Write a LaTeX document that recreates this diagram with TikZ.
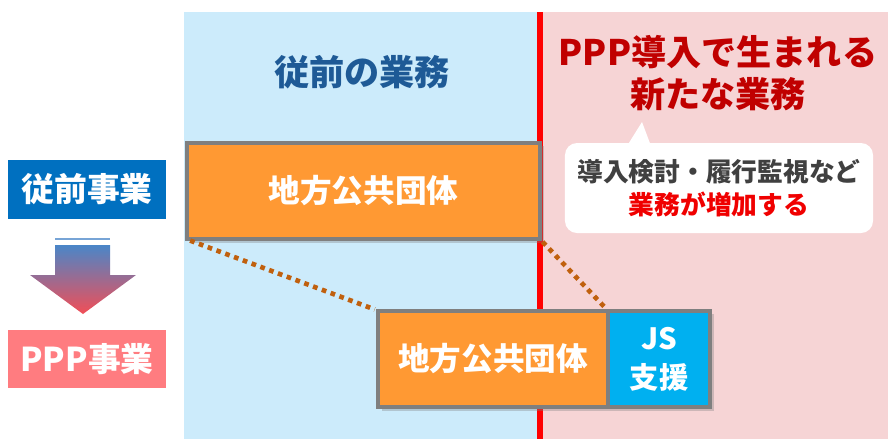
\documentclass[tikz,border=0pt]{standalone}
\usepackage{fontspec}
\setmainfont{Noto Sans CJK JP}
\usepackage{tikz}
\usetikzlibrary{positioning,shadows}
\definecolor{panelblue}{HTML}{CCEBFB}
\definecolor{panelpink}{HTML}{F6D4D5}
\definecolor{titleblue}{HTML}{1E5A96}
\definecolor{titlered}{HTML}{C00000}
\definecolor{notegray}{HTML}{404040}
\definecolor{notered}{HTML}{F00000}
\definecolor{orgfill}{HTML}{FF9933}
\definecolor{boxgray}{HTML}{7F7F7F}
\definecolor{jsblue}{HTML}{00B0F0}
\definecolor{dotbrown}{HTML}{C0600E}
\definecolor{oldblue}{HTML}{0070C0}
\definecolor{ppppink}{HTML}{FF7C80}
\definecolor{arrowtop}{HTML}{4A86C8}
\definecolor{arrowmid}{HTML}{D2B8D4}
\definecolor{arrowbot}{HTML}{F24E56}

\begin{document}
\begin{tikzpicture}[x=0.03cm,y=-0.03cm,
    orgbox/.style={draw=boxgray, line width=3.4pt, fill=orgfill, text=white,
      font=\bfseries\fontsize{27}{30}\selectfont, minimum height=2.9cm,
      inner sep=0pt, outer sep=0pt,
      drop shadow={shadow xshift=3pt, shadow yshift=-3pt, opacity=0.35}},
    sidebox/.style={text=white, font=\bfseries\fontsize{28}{32}\selectfont,
      minimum width=4.74cm, minimum height=1.76cm, inner sep=0pt},
    dotline/.style={dotbrown, line width=4pt, dash pattern=on 4pt off 4pt,
      shorten <=3pt, shorten >=3pt}]
  \useasboundingbox (0,0) rectangle (888,439);

  % two columns
  \fill[panelblue] (184,12) rectangle (540,439);
  \fill[panelpink] (540,12) rectangle (888,439);
  \draw[red, line width=5pt] (540,12) -- (540,439);

  \node[text=titleblue, font=\bfseries\fontsize{30}{36}\selectfont] (oldtitle) at (362,72) {従前の業務};
  \node[text=titlered, font=\bfseries\fontsize{30}{36.5}\selectfont, align=center] (newtitle) at (718,73)
    {PPP導入で生まれる\\新たな業務};

  % callout
  \fill[white] (627,146) -- (642,122) -- (651,146) -- cycle;
  \node[fill=white, rounded corners=0.36cm, minimum width=9.24cm, minimum height=2.7cm,
    text=notegray, font=\bfseries\fontsize{22}{28}\selectfont, align=center] (note) at (719,188)
    {導入検討・履行監視など\\{\color{notered}業務が増加する}};

  % left side
  \node[sidebox, fill=oldblue] (oldbiz) at (87,189.5) {従前事業};
  \node[sidebox, fill=ppppink] (pppbiz) at (87,359) {PPP事業};
  \draw[arrowtop!75!white, line width=2.2pt] (55,239) -- (110,239);
  \shade[top color=arrowtop, middle color=arrowmid, bottom color=arrowbot]
    (55,245) -- (110,245) -- (110,275) -- (136,275) -- (83,314) -- (30,275) -- (55,275) -- cycle;

  % boxes
  \node[orgbox, minimum width=10.6cm] (lg1) at (363.5,191) {地方公共団体};
  \node[orgbox, minimum width=6.9cm] (lg2) at (493,359) {地方公共団体};
  \node[orgbox, fill=jsblue, minimum width=3.06cm, align=center,
    font=\bfseries\fontsize{25}{33}\selectfont, right=0pt of lg2] (js) {JS\\支援};

  \draw[dotline] (lg1.south west) -- (lg2.north west);
  \draw[dotline] (lg1.south east) -- (lg2.north east);
\end{tikzpicture}
\end{document}
